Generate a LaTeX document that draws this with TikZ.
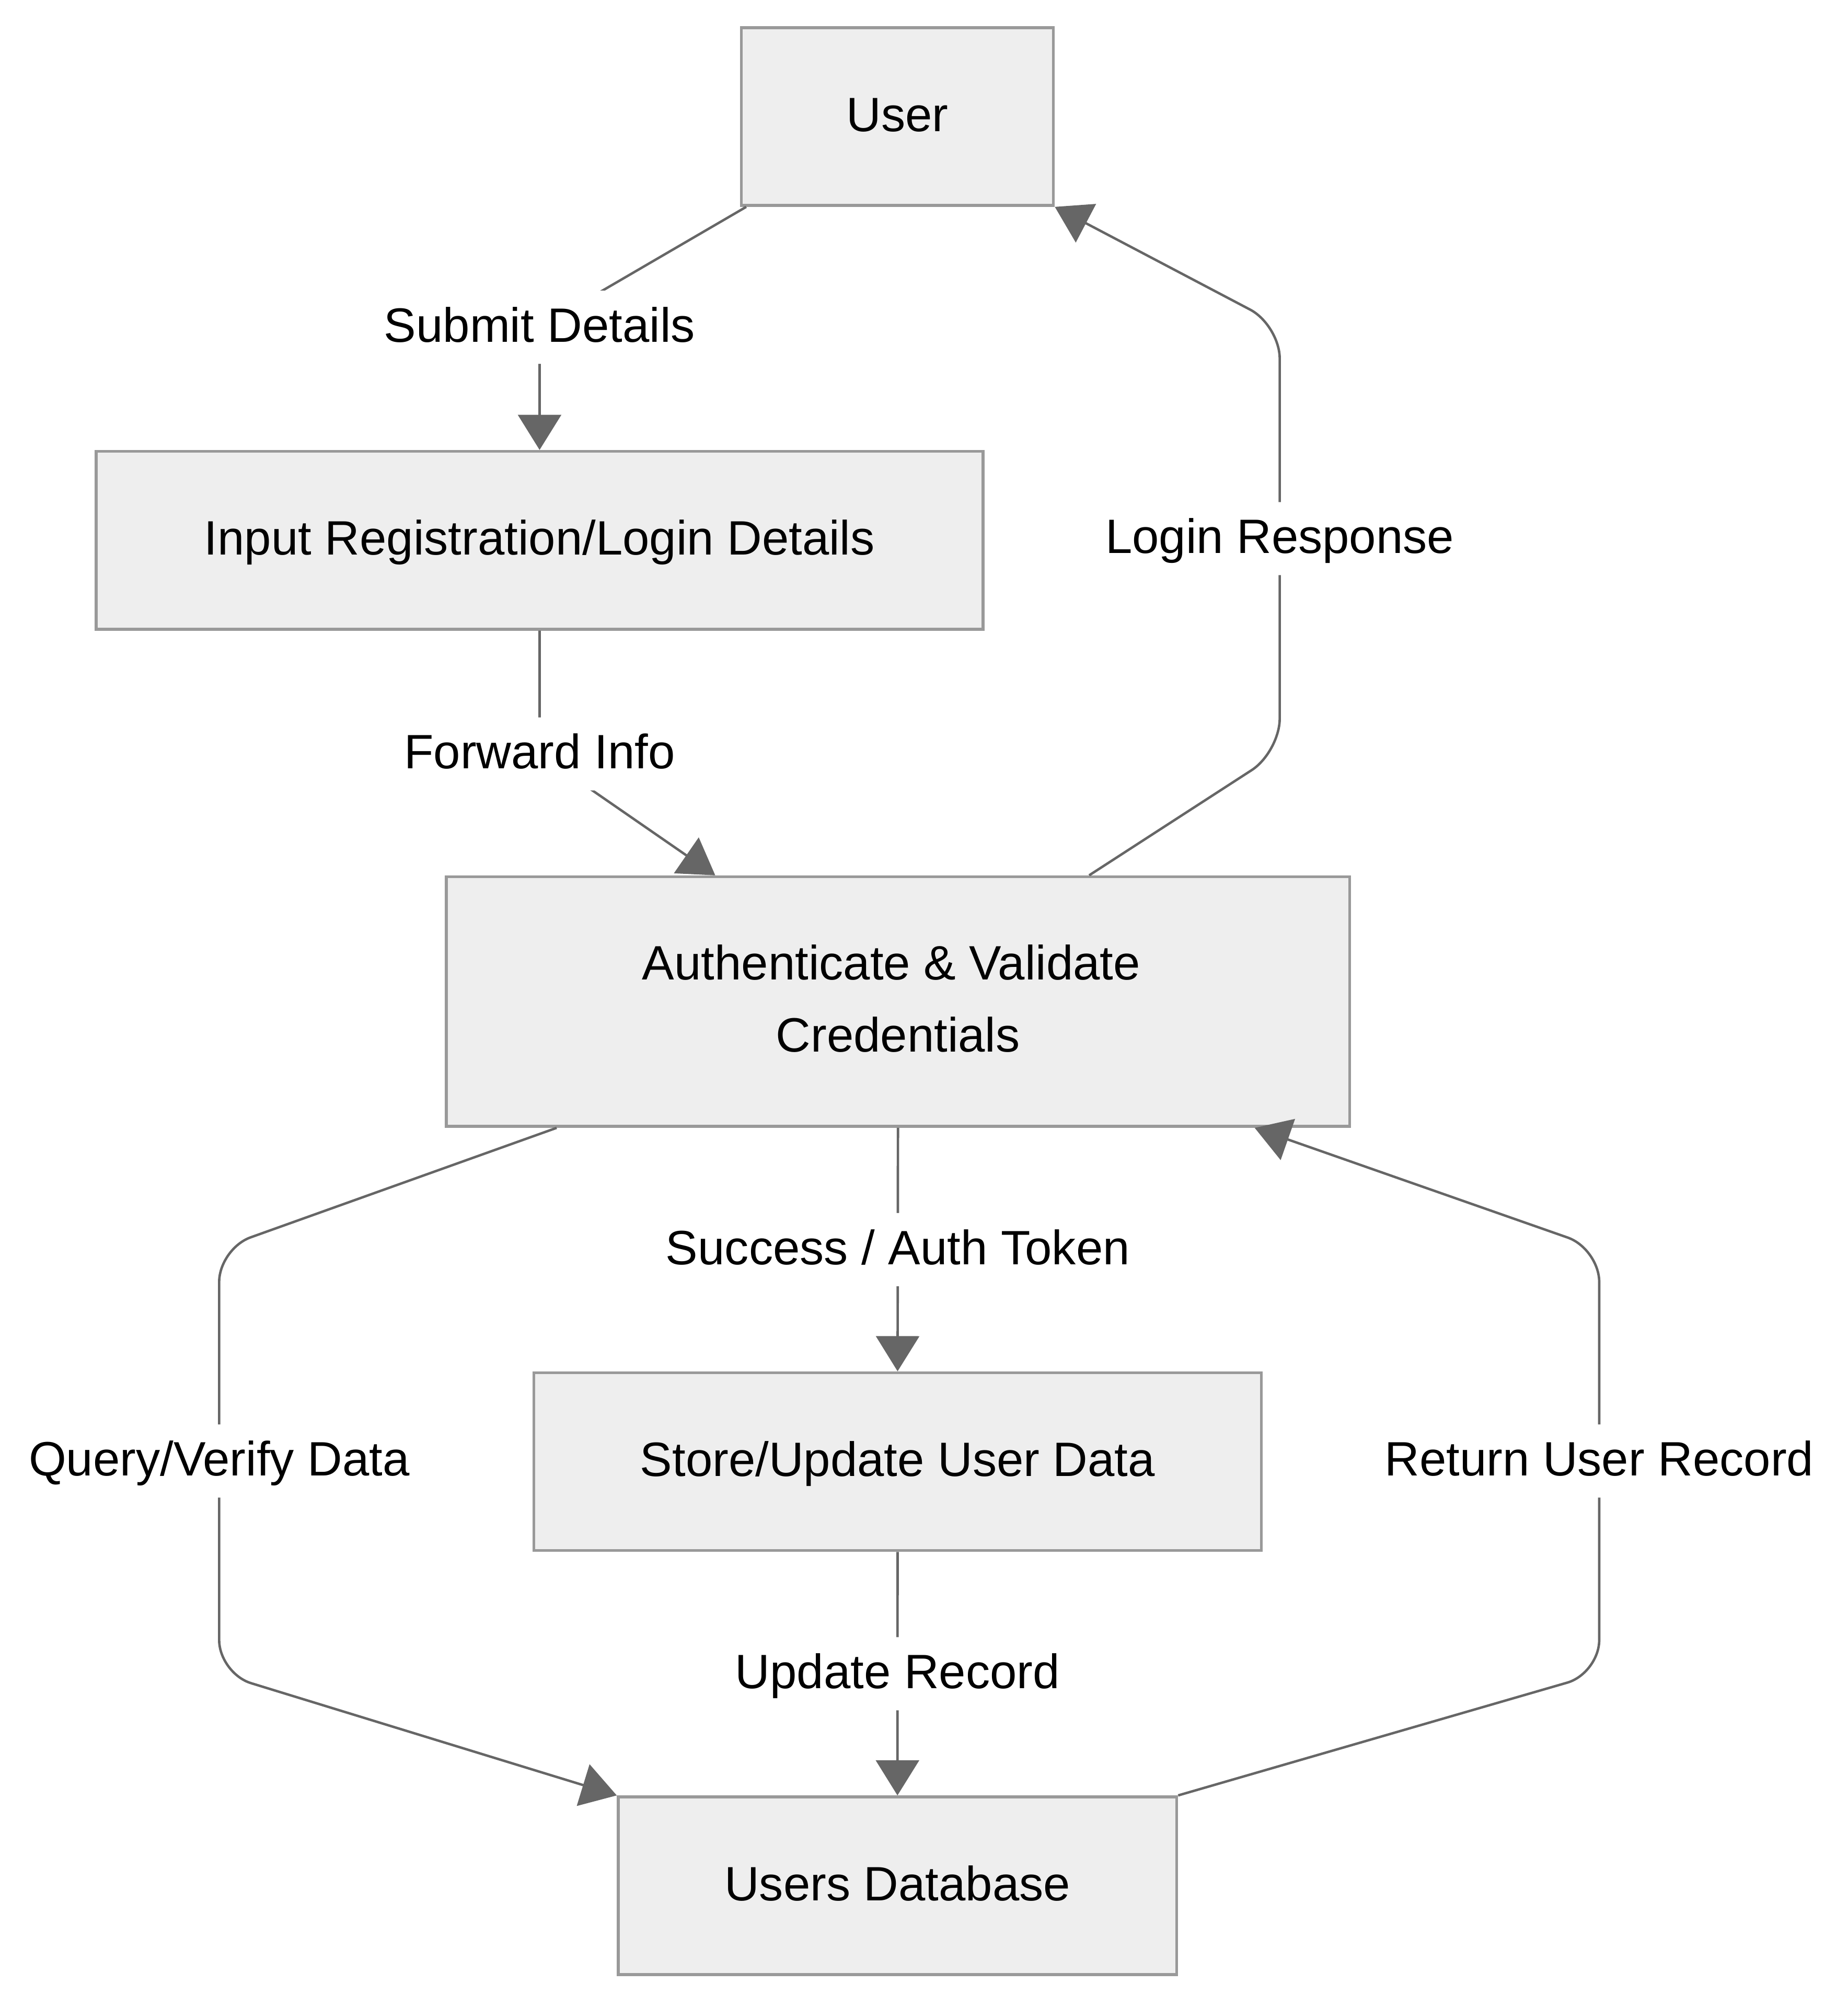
\documentclass[tikz,border=0pt]{standalone}
\usepackage{fontspec}
\setmainfont{Liberation Sans}
\usepackage{tikz}
\usetikzlibrary{calc,arrows.meta}
\definecolor{boxfill}{HTML}{EEEEEE}
\definecolor{boxline}{HTML}{999999}
\definecolor{flowline}{HTML}{666666}
\newcommand{\diagfont}{\fontsize{18.8}{28}\selectfont}
\tikzset{
  nodebox/.style={draw=boxline,fill=boxfill,line width=1.15pt,inner sep=0pt,minimum height=69.25pt,font=\diagfont},
  box/.style={nodebox,text height=20pt,text depth=8.5pt},
  lbl/.style={fill=white,inner xsep=1pt,inner ysep=0pt,text height=20pt,text depth=8.5pt,font=\diagfont},
  flow/.style={draw=flowline,line width=0.95pt,rounded corners=13pt,-{Triangle[length=13.7pt,width=16.8pt]}}
}

\begin{document}
\begin{tikzpicture}[x=0.5pt,y=-0.5pt]
                    \useasboundingbox (0,0) rectangle (1440,1564);
                    \node[box,minimum width=121.6pt] (user) at (699.3,90.8) {User};
                    \node[box,minimum width=345.5pt] (input) at (420.5,421) {Input Registration/Login Details};
                    \node[nodebox,minimum width=352pt,minimum height=97.25pt,align=center] (auth) at (699.8,780.5) {Authenticate \& Validate\hspace*{5.2pt}\\Credentials\rule[-2.5pt]{0pt}{2.5pt}};
                    \node[box,minimum width=283.5pt] (store) at (699.5,1139) {Store/Update User Data};
                    \node[box,minimum width=217.6pt] (db) at (699.4,1469.5) {Users Database};
                    \coordinate (b1) at (420.5,255);
                    \coordinate (b2) at (420.5,587.5);
                    \coordinate (b3) at (997.3,586);
                    \coordinate (b4) at (997.3,253.4);
                    \coordinate (b5) at (170.8,973);
                    \coordinate (b6) at (170.8,1304);
                    \coordinate (b7) at (1246.3,1304);
                    \coordinate (b8) at (1246.3,973);
                    \draw[flow] ($(user.south west)+(5,0)$) -- (b1) node[lbl] {Submit Details} -- (input.north);
                    \draw[flow] (input.south) -- (b2) node[lbl] {Forward Info} -- ($(auth.north)+(-142.4,0)$);
                    \draw[flow] ($(auth.north)+(149,0)$) -- (b3) -- node[lbl] {Login Response} (b4) -- (user.south east);
                    \draw[flow] (auth.south) -- node[lbl] {Success / Auth Token} (store.north);
                    \draw[flow] ($(auth.south)+(-266,0)$) -- (b5) -- node[lbl] {Query/Verify Data} (b6) -- (db.north west);
                    \draw[flow] (store.south) -- node[lbl] {Update Record} (db.north);
                    \draw[flow] (db.north east) -- (b7) -- node[lbl] {Return User Record} (b8) -- ($(auth.south)+(278,0)$);
                    \end{tikzpicture}
\end{document}
